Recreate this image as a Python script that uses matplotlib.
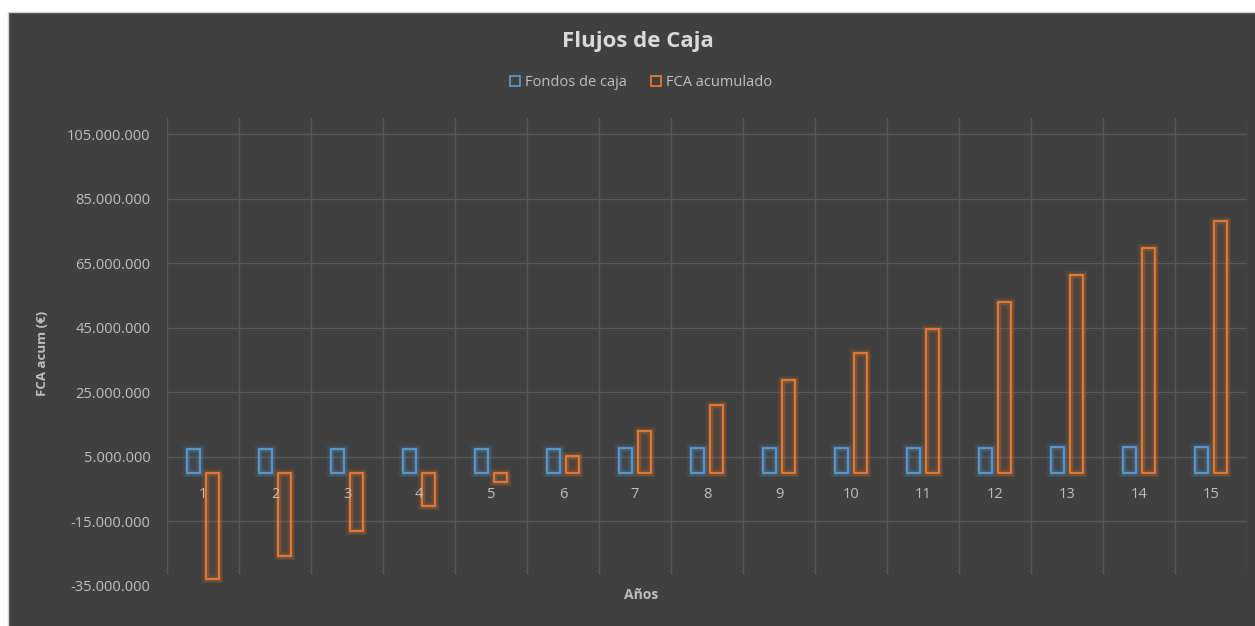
import matplotlib
matplotlib.use("Agg")
import matplotlib.pyplot as plt
from matplotlib.patches import Rectangle, Patch
from matplotlib.ticker import FuncFormatter, FixedLocator

# Data (euros)
years = [str(i) for i in range(1, 16)]
fondos_caja = [7.2e6, 7.2e6, 7.2e6, 7.3e6, 7.3e6, 7.4e6, 7.5e6, 7.5e6,
               7.6e6, 7.6e6, 7.7e6, 7.7e6, 7.9e6, 8.0e6, 8.0e6]
fca_acumulado = [-33.0e6, -25.8e6, -18.2e6, -10.4e6, -2.9e6, 5.1e6, 12.9e6,
                 20.9e6, 28.7e6, 37.0e6, 44.7e6, 53.0e6, 61.4e6, 69.7e6, 78.0e6]
y_ticks = [-35e6, -15e6, 5e6, 25e6, 45e6, 65e6, 85e6, 105e6]

BG = "#404040"
GRID = "#585858"
TXT = "#bfbfbf"
BLUE = "#5b9bd5"
ORANGE = "#ed7d31"
FONT = "Open Sans"

W, H = 1255, 626
fig = plt.figure(figsize=(W / 100, H / 100), dpi=100)
fig.patch.set_facecolor("white")
fig.add_artist(Rectangle((8 / W, -0.01), 1.02, 1 - 12 / H + 0.01,
                         transform=fig.transFigure, facecolor=BG,
                         edgecolor="#d0d0d0", linewidth=1, zorder=0))

left, right = 167 / W, 1247 / W
bottom, top = 1 - 585.5 / H, 1 - 118 / H
ax = fig.add_axes([left, bottom, right - left, top - bottom])
ax.set_facecolor("none")
ax.set_xlim(0.5, 15.5)
ax.set_ylim(-35e6, 110e6)

x = list(range(1, 16))
offset = 0.13
width = 0.175
xb = [v - offset for v in x]
xo = [v + offset for v in x]

# Gridlines
for t in y_ticks[1:]:
    ax.axhline(t, color=GRID, linewidth=1.0, zorder=1)
frac_low = (-31e6 - (-35e6)) / (110e6 + 35e6)
for v in [i + 0.5 for i in range(0, 16)]:
    ax.axvline(v, ymin=frac_low, ymax=1, color=GRID, linewidth=1.0, zorder=1)

# Glow layers, then outlined bars
for xs, vals, col in [(xb, fondos_caja, BLUE), (xo, fca_acumulado, ORANGE)]:
    ax.bar(xs, vals, width=width, facecolor="none", edgecolor=col,
           linewidth=6, alpha=0.10, zorder=2, joinstyle="miter")
    ax.bar(xs, vals, width=width, facecolor="none", edgecolor=col,
           linewidth=3.5, alpha=0.20, zorder=2, joinstyle="miter")
ax.bar(xb, fondos_caja, width=width, facecolor=(0.357, 0.608, 0.835, 0.07),
       edgecolor=BLUE, linewidth=1.3, zorder=3, joinstyle="miter")
ax.bar(xo, fca_acumulado, width=width, facecolor=(0.929, 0.49, 0.192, 0.08),
       edgecolor=ORANGE, linewidth=1.3, zorder=3, joinstyle="miter")

# Axes styling
for s in ax.spines.values():
    s.set_visible(False)
ax.spines["bottom"].set_position(("data", 0))
ax.xaxis.set_zorder(5)
ax.set_xticks(x)
ax.set_xticklabels(years)
ax.yaxis.set_major_locator(FixedLocator(y_ticks))
ax.yaxis.set_major_formatter(
    FuncFormatter(lambda v, p: f"{int(round(v)):,}".replace(",", ".")))
ax.tick_params(axis="x", length=0, pad=10.5, colors=TXT, labelsize=10.5)
ax.tick_params(axis="y", length=0, pad=12, colors=TXT, labelsize=10.5)
for lbl in ax.get_xticklabels() + ax.get_yticklabels():
    lbl.set_fontfamily(FONT)

# Titles and labels
fig.text(638 / W, 1 - 41 / H, "Flujos de Caja", ha="center", va="center",
         fontsize=16, fontweight="bold", color="#d9d9d9", family=FONT)
fig.text(43 / W, 1 - 353 / H, "FCA acum (€)", ha="center", va="center",
         rotation=90, fontsize=9.5, fontweight="bold", color=TXT, family=FONT)
fig.text(641 / W, 1 - 595 / H, "Años", ha="center", va="center",
         fontsize=10, fontweight="bold", color=TXT, family=FONT)

handles = [Patch(facecolor="none", edgecolor=BLUE, linewidth=1.2),
           Patch(facecolor="none", edgecolor=ORANGE, linewidth=1.2)]
leg = fig.legend(handles, ["Fondos de caja", "FCA acumulado"],
                 loc="center", bbox_to_anchor=(641 / W, 1 - 82.5 / H),
                 ncol=2, frameon=False, handlelength=0.7, handleheight=0.7,
                 handletextpad=0.3, columnspacing=1.7,
                 prop={"family": FONT, "size": 10.5})
for t in leg.get_texts():
    t.set_color(TXT)

fig.savefig("out.png", dpi=100, facecolor=fig.get_facecolor())
